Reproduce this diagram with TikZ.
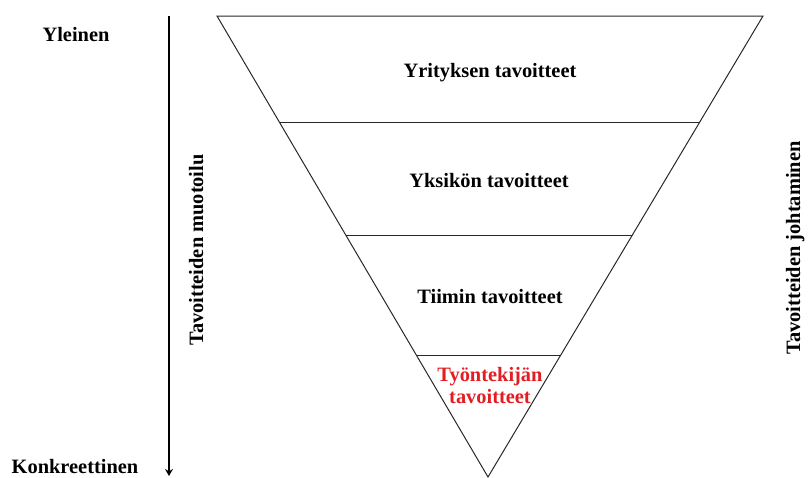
\documentclass[tikz,border=0pt]{standalone}
\usepackage{fontspec}
\setmainfont{Liberation Serif}
\usepackage{tikz}
\usetikzlibrary{arrows.meta,calc}
\definecolor{tyored}{RGB}{226,30,36}
\definecolor{edgegray}{RGB}{40,40,40}

\begin{document}
\begin{tikzpicture}[x=1pt,y=-1pt,
        lbl/.style={font=\fontsize{20.4}{22}\selectfont\bfseries, anchor=base, inner sep=0pt},
        edge/.style={draw=edgegray, line width=1pt}]
        \useasboundingbox (0,0) rectangle (808,477);
        % triangle
        \coordinate (tl) at (217,16);
        \coordinate (tr) at (763,16);
        \coordinate (apex) at (488,477);
        \draw[edge, line join=miter] (tl) -- (tr) -- (apex) -- cycle;
        % levels
        \coordinate (l1) at ($(tl)!0.232!(apex)$);
        \coordinate (r1) at ($(tr)!0.232!(apex)$);
        \coordinate (l2) at ($(tl)!0.477!(apex)$);
        \coordinate (r2) at ($(tr)!0.477!(apex)$);
        \coordinate (l3) at ($(tl)!0.7375!(apex)$);
        \coordinate (r3) at ($(tr)!0.7375!(apex)$);
        \draw[edge] (l1) -- (r1);
        \draw[edge] (l2) -- (r2);
        \draw[edge] (l3) -- (r3);
        \node[lbl] (yritys) at (490,77) {Yrityksen tavoitteet};
        \node[lbl] (yksikko) at (489,187) {Yksikön tavoitteet};
        \node[lbl] (tiimi) at (490,303) {Tiimin tavoitteet};
        \node[lbl, text=tyored] (tyontekija) at (490,381) {Työntekijän};
        \node[lbl, text=tyored] (tyontekija2) at (490,403) {tavoitteet};
        % left axis
        \node[lbl] (yleinen) at (76,41) {Yleinen};
        \node[lbl] (konkreettinen) at (75,473) {Konkreettinen};
        \coordinate (axtop) at (169,16);
        \coordinate (axbot) at (169,476);
        \draw[line width=2.5pt, -{Stealth[length=7pt,width=8pt]}] (axtop) -- (axbot);
        \node[lbl, rotate=90] (muotoilu) at (203,250) {Tavoitteiden muotoilu};
        \node[lbl, rotate=90] (johtaminen) at (800,248) {Tavoitteiden johtaminen};
    \end{tikzpicture}
\end{document}
